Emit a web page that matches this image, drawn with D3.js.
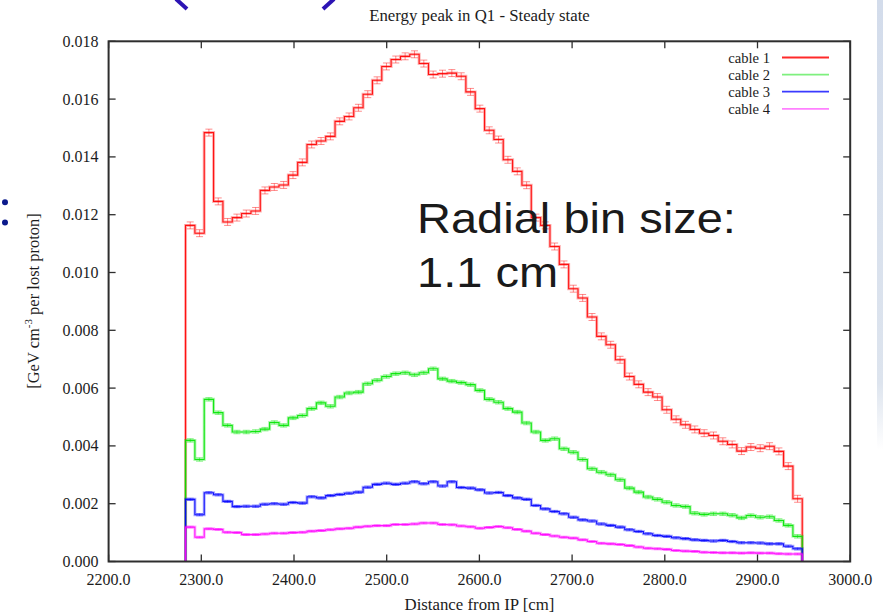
<!DOCTYPE html>
<html>
<head>
<meta charset="utf-8">
<script src="https://cdn.jsdelivr.net/npm/d3@7/dist/d3.min.js"></script>
<style>
  html, body { margin: 0; padding: 0; background: #fff; }
  svg { display: block; }
  .tick-label, .axis-title, .legend-label, .chart-title { font-family: "Liberation Serif", "DejaVu Serif", serif; fill: #1c1c1c; }
</style>
</head>
<body>
<svg id="chart" width="883" height="614"></svg>
<script>
// Histogram binning along the beam line (cm)
const binStart = 2283;
const binWidth = 10.08;

// Energy density per bin, GeV cm^-3 per lost proton
const cable1 = [
  0.01163, 0.01136, 0.01484, 0.01246, 0.01175, 0.01190, 0.01204, 0.01213, 0.01284, 0.01296,
  0.01303, 0.01337, 0.01381, 0.01443, 0.01455, 0.01471, 0.01523, 0.01540, 0.01570, 0.01617,
  0.01665, 0.01713, 0.01737, 0.01748, 0.01755, 0.01723, 0.01685, 0.01688, 0.01690, 0.01679,
  0.01625, 0.01567, 0.01492, 0.01460, 0.01390, 0.01350, 0.01302, 0.01190, 0.01163, 0.01090,
  0.01028, 0.00944, 0.00912, 0.00846, 0.00779, 0.00750, 0.00698, 0.00640, 0.00613, 0.00586,
  0.00569, 0.00525, 0.00492, 0.00473, 0.00457, 0.00444, 0.00436, 0.00416, 0.00405, 0.00382,
  0.00396, 0.00392, 0.00399, 0.00381, 0.00330, 0.00217
];
const cable2 = [
  0.00419, 0.00353, 0.00561, 0.00515, 0.00471, 0.00448, 0.00448, 0.00450, 0.00458, 0.00481,
  0.00471, 0.00497, 0.00505, 0.00529, 0.00549, 0.00537, 0.00569, 0.00583, 0.00586, 0.00615,
  0.00627, 0.00640, 0.00650, 0.00653, 0.00646, 0.00653, 0.00667, 0.00632, 0.00624, 0.00619,
  0.00612, 0.00592, 0.00561, 0.00551, 0.00529, 0.00517, 0.00479, 0.00448, 0.00419, 0.00425,
  0.00390, 0.00378, 0.00353, 0.00321, 0.00309, 0.00300, 0.00283, 0.00254, 0.00240, 0.00223,
  0.00215, 0.00205, 0.00194, 0.00190, 0.00167, 0.00163, 0.00165, 0.00165, 0.00160, 0.00151,
  0.00159, 0.00153, 0.00155, 0.00142, 0.00125, 0.00087
];
const cable3 = [
  0.00215, 0.00162, 0.00238, 0.00231, 0.00208, 0.00190, 0.00191, 0.00191, 0.00198, 0.00200,
  0.00198, 0.00204, 0.00202, 0.00224, 0.00220, 0.00228, 0.00232, 0.00236, 0.00240, 0.00257,
  0.00267, 0.00271, 0.00267, 0.00271, 0.00276, 0.00269, 0.00276, 0.00261, 0.00276, 0.00256,
  0.00254, 0.00248, 0.00237, 0.00239, 0.00228, 0.00220, 0.00215, 0.00194, 0.00182, 0.00173,
  0.00165, 0.00153, 0.00144, 0.00140, 0.00130, 0.00125, 0.00119, 0.00110, 0.00104, 0.00096,
  0.00090, 0.00087, 0.00082, 0.00079, 0.00075, 0.00073, 0.00071, 0.00073, 0.00069, 0.00065,
  0.00065, 0.00064, 0.00061, 0.00061, 0.00053, 0.00044
];
const cable4 = [
  0.00119, 0.00084, 0.00113, 0.00111, 0.00101, 0.00100, 0.00093, 0.00093, 0.00095, 0.00098,
  0.00098, 0.00100, 0.00101, 0.00105, 0.00107, 0.00110, 0.00113, 0.00115, 0.00119, 0.00122,
  0.00124, 0.00124, 0.00128, 0.00128, 0.00130, 0.00133, 0.00133, 0.00128, 0.00127, 0.00123,
  0.00120, 0.00115, 0.00118, 0.00121, 0.00117, 0.00111, 0.00105, 0.00098, 0.00093, 0.00088,
  0.00084, 0.00081, 0.00075, 0.00069, 0.00063, 0.00061, 0.00059, 0.00055, 0.00050, 0.00046,
  0.00044, 0.00042, 0.00038, 0.00036, 0.00035, 0.00032, 0.00031, 0.00030, 0.00030, 0.00029,
  0.00030, 0.00029, 0.00029, 0.00027, 0.00026, 0.00026
];

const seriesNames = ["cable 1", "cable 2", "cable 3", "cable 4"];
const seriesValues = [cable1, cable2, cable3, cable4];
const seriesErr = [0.00012, 0.00006, 0.00004, 0.00003];
const seriesColors = ["#ff0000", "#00e600", "#0000ff", "#ff00ff"];
const legendColors = ["#ff2a2a", "#7ef07e", "#3a3aff", "#ff80ff"];

const xTicks = [2200, 2300, 2400, 2500, 2600, 2700, 2800, 2900, 3000];
const yTicks = [0, 0.002, 0.004, 0.006, 0.008, 0.010, 0.012, 0.014, 0.016, 0.018];

const chartTitle = "Energy peak in Q1 - Steady state";
const xTitle = "Distance from IP [cm]";
const noteLines = ["Radial bin size:", "1.1 cm"];

const svg = d3.select("#chart");
const frame = { left: 108.6, right: 850.2, top: 41.3, bottom: 561.5 };

const x = d3.scaleLinear().domain([2200, 3000]).range([frame.left, frame.right]);
const y = d3.scaleLinear().domain([0, 0.018]).range([frame.bottom, frame.top]);

// Slide decorations around the plot
const grad = svg.append("defs").append("linearGradient")
  .attr("id", "edgeFade").attr("x1", 0).attr("y1", 0).attr("x2", 0).attr("y2", 1);
grad.append("stop").attr("offset", "0%").attr("stop-color", "#d3dceb");
grad.append("stop").attr("offset", "85%").attr("stop-color", "#dde4ee");
grad.append("stop").attr("offset", "100%").attr("stop-color", "#ffffff");
svg.append("rect").attr("x", 877).attr("y", 0).attr("width", 6).attr("height", 450)
  .attr("fill", "url(#edgeFade)");
svg.append("line").attr("x1", 176).attr("y1", -1).attr("x2", 187).attr("y2", 9)
  .attr("stroke", "#2c14b4").attr("stroke-width", 4);
svg.append("line").attr("x1", 334).attr("y1", -1).attr("x2", 323).attr("y2", 9)
  .attr("stroke", "#2c14b4").attr("stroke-width", 4);
svg.selectAll("circle.bullet").data([202.3, 222.6]).join("circle")
  .attr("class", "bullet").attr("cx", 5).attr("cy", d => d).attr("r", 3)
  .attr("fill", "#0c1a8c");

// Title
svg.append("text").attr("class", "chart-title")
  .attr("x", 479.5).attr("y", 21).attr("text-anchor", "middle")
  .attr("font-size", 16.8).text(chartTitle);

// Histogram outlines with error bars
const edge = i => binStart + i * binWidth;
const stepLine = d3.line().x(d => x(d[0])).y(d => y(d[1])).curve(d3.curveStepAfter);

const plot = svg.append("g");
seriesValues.forEach((vals, s) => {
  const pts = [[edge(0), 0]];
  vals.forEach((v, i) => pts.push([edge(i), v]));
  pts.push([edge(vals.length), vals[vals.length - 1]]);
  pts.push([edge(vals.length), 0]);

  const g = plot.append("g");
  g.append("path").attr("d", stepLine(pts)).attr("fill", "none")
    .attr("stroke", seriesColors[s]).attr("stroke-width", 3).attr("stroke-opacity", 0.3);

  const err = seriesErr[s];
  const bars = g.append("g").attr("stroke", seriesColors[s]).attr("stroke-opacity", 0.45)
    .attr("stroke-width", 1);
  vals.forEach((v, i) => {
    const cx = x(edge(i) + binWidth / 2);
    const y0 = y(v - err), y1 = y(v + err);
    bars.append("line").attr("x1", cx).attr("x2", cx).attr("y1", y0).attr("y2", y1);
    bars.append("line").attr("x1", cx - 3.5).attr("x2", cx + 3.5).attr("y1", y0).attr("y2", y0);
    bars.append("line").attr("x1", cx - 3.5).attr("x2", cx + 3.5).attr("y1", y1).attr("y2", y1);
  });

  g.append("path").attr("d", stepLine(pts)).attr("fill", "none")
    .attr("stroke", seriesColors[s]).attr("stroke-width", 1.1).attr("stroke-opacity", 0.9);
});

// Axes: ticks inward on all four sides
const axisColor = "#2e2e2e";
const tickLen = 7;
const axes = svg.append("g").attr("stroke", axisColor);
xTicks.forEach(t => {
  axes.append("line").attr("x1", x(t)).attr("x2", x(t))
    .attr("y1", frame.bottom).attr("y2", frame.bottom - tickLen).attr("stroke-width", 1.3);
  axes.append("line").attr("x1", x(t)).attr("x2", x(t))
    .attr("y1", frame.top).attr("y2", frame.top + tickLen).attr("stroke-width", 1.3);
});
yTicks.forEach(t => {
  axes.append("line").attr("x1", frame.left).attr("x2", frame.left + tickLen)
    .attr("y1", y(t)).attr("y2", y(t)).attr("stroke-width", 1.3);
  axes.append("line").attr("x1", frame.right).attr("x2", frame.right - tickLen)
    .attr("y1", y(t)).attr("y2", y(t)).attr("stroke-width", 1.3);
});
svg.append("rect")
  .attr("x", frame.left).attr("y", frame.top)
  .attr("width", frame.right - frame.left).attr("height", frame.bottom - frame.top)
  .attr("fill", "none").attr("stroke", axisColor).attr("stroke-width", 2);

svg.append("g").selectAll("text").data(xTicks).join("text")
  .attr("class", "tick-label").attr("x", d => x(d)).attr("y", 585)
  .attr("text-anchor", "middle").attr("font-size", 16)
  .text(d => d3.format(".1f")(d));
svg.append("g").selectAll("text").data(yTicks).join("text")
  .attr("class", "tick-label").attr("x", 98.5).attr("y", d => y(d) + 5.5)
  .attr("text-anchor", "end").attr("font-size", 16)
  .text(d => d3.format(".3f")(d));

// Axis titles
svg.append("text").attr("class", "axis-title")
  .attr("x", 479.5).attr("y", 609.5).attr("text-anchor", "middle")
  .attr("font-size", 16.8).text(xTitle);

const yTitle = svg.append("text").attr("class", "axis-title")
  .attr("transform", "translate(39,301) rotate(-90)")
  .attr("text-anchor", "middle").attr("font-size", 16.5);
yTitle.append("tspan").text("[GeV cm");
yTitle.append("tspan").attr("dy", -7).attr("font-size", 11).text("-3");
yTitle.append("tspan").attr("dy", 7).text(" per lost proton]");

// Legend
const legend = svg.append("g");
seriesNames.forEach((name, i) => {
  const ly = 57.5 + i * 17.1;
  legend.append("text").attr("class", "legend-label")
    .attr("x", 770).attr("y", ly + 5).attr("text-anchor", "end")
    .attr("font-size", 14.6).text(name);
  legend.append("line").attr("x1", 782).attr("x2", 829).attr("y1", ly).attr("y2", ly)
    .attr("stroke", legendColors[i]).attr("stroke-width", 1.8);
});

// Annotation
const note = svg.append("g").attr("transform", "translate(417,0) scale(1.12,1)");
noteLines.forEach((line, i) => {
  note.append("text").attr("x", 0).attr("y", 233.5 + i * 54)
    .attr("font-family", "'Liberation Sans', Arial, sans-serif")
    .attr("font-size", 42).attr("fill", "#1a1a1a").text(line);
});
</script>
</body>
</html>
